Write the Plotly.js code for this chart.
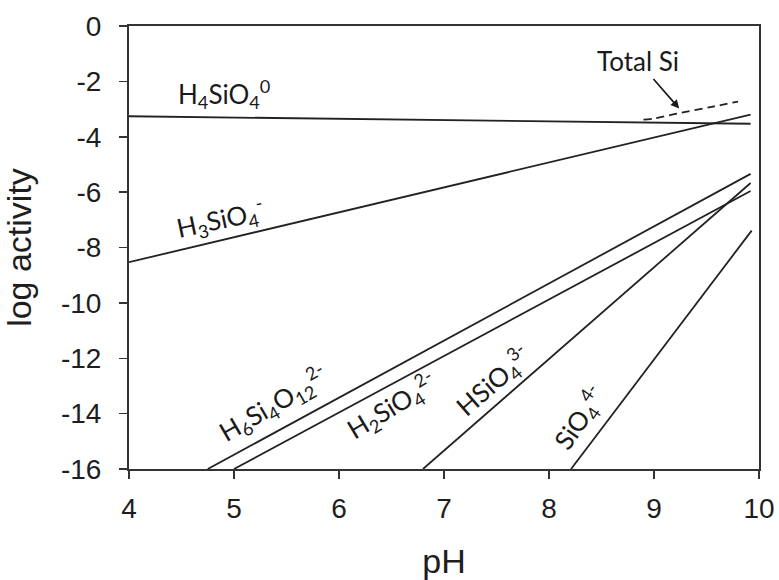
<!DOCTYPE html>
<html>
<head>
<meta charset="utf-8">
<script src="https://cdn.plot.ly/plotly-3.0.1.min.js"></script>
<style>
html,body{margin:0;padding:0;background:#fff;}
#chart{width:779px;height:580px;}
</style>
</head>
<body>
<div id="chart"></div>
<script>
// pH / log activity values
const pH_H4SiO4 = [4, 9.92];
const log_H4SiO4 = [-3.26, -3.53];
const pH_H3SiO4 = [4, 9.92];
const log_H3SiO4 = [-8.53, -3.20];
const pH_TotalSi = [8.9, 9.0, 9.25, 9.55, 9.8];
const log_TotalSi = [-3.38, -3.34, -3.14, -2.92, -2.73];
const pH_H6Si4O12 = [4.75, 9.92];
const log_H6Si4O12 = [-16, -5.34];
const pH_H2SiO4 = [5.0, 9.92];
const log_H2SiO4 = [-16, -5.96];
const pH_HSiO4 = [6.80, 9.92];
const log_HSiO4 = [-16, -5.67];
const pH_SiO4 = [8.21, 9.93];
const log_SiO4 = [-16, -7.39];

const xTicks = [4, 5, 6, 7, 8, 9, 10];
const yTicks = [0, -2, -4, -6, -8, -10, -12, -14, -16];

const lineCol = '#222';
function solid(x, y, name) {
  return {x: x, y: y, name: name, mode: 'lines', type: 'scatter',
          line: {color: lineCol, width: 1.8}, hoverinfo: 'skip'};
}
const traces = [
  solid(pH_H4SiO4, log_H4SiO4, 'H4SiO4'),
  solid(pH_H3SiO4, log_H3SiO4, 'H3SiO4-'),
  {x: pH_TotalSi, y: log_TotalSi, name: 'Total Si', mode: 'lines', type: 'scatter',
   line: {color: lineCol, width: 1.8, dash: '8px,5px', shape: 'spline'}, hoverinfo: 'skip'},
  solid(pH_H6Si4O12, log_H6Si4O12, 'H6Si4O12 2-'),
  solid(pH_H2SiO4, log_H2SiO4, 'H2SiO4 2-'),
  solid(pH_HSiO4, log_HSiO4, 'HSiO4 3-'),
  solid(pH_SiO4, log_SiO4, 'SiO4 4-')
];

const lblFont = {family: 'Lato, "Open Sans", sans-serif', size: 26, color: '#1a1a1a'};
function lbl(text, x, y, angle) {
  return {text: text, x: x, y: y, xref: 'x', yref: 'y', showarrow: false,
          textangle: angle, font: lblFont, xanchor: 'center', yanchor: 'middle'};
}
const annotations = [
  lbl('H<sub>4</sub>SiO<sub>4</sub><sup>0</sup>', 4.9, -2.45, 0),
  lbl('H<sub>3</sub>SiO<sub>4</sub><sup>-</sup>', 4.87, -6.96, -12),
  lbl('H<sub>6</sub>Si<sub>4</sub>O<sub>12</sub><sup>2-</sup>', 5.37, -13.64, -30),
  lbl('H<sub>2</sub>SiO<sub>4</sub><sup>2-</sup>', 6.50, -13.71, -31),
  lbl('HSiO<sub>4</sub><sup>3-</sup>', 7.47, -12.81, -41),
  lbl('SiO<sub>4</sub><sup>4-</sup>', 8.29, -14.14, -55),
  {text: 'Total Si', font: lblFont, x: 9.24, y: -2.98, ax: 8.85, ay: -1.28,
   axref: 'x', ayref: 'y', xref: 'x', yref: 'y', showarrow: true,
   arrowhead: 2, arrowsize: 1, arrowwidth: 1.7, arrowcolor: '#1a1a1a', standoff: 0}
];

const axisFont = {family: '"Liberation Sans", Arial, sans-serif', size: 28, color: '#1e1e1e'};
const titleFont = {family: '"Liberation Sans", Arial, sans-serif', size: 34, color: '#1e1e1e'};
const layout = {
  width: 779, height: 580,
  margin: {l: 129, r: 20, t: 26, b: 111},
  paper_bgcolor: '#fff', plot_bgcolor: '#fff',
  showlegend: false,
  xaxis: {
    range: [4, 10], tickvals: xTicks, ticktext: xTicks.map(String),
    showgrid: false, zeroline: false,
    showline: true, linecolor: '#333', linewidth: 2, mirror: true,
    ticks: 'outside', ticklen: 8, tickwidth: 1.5, tickcolor: '#333',
    tickfont: axisFont, ticklabelstandoff: 5,
    title: {text: 'pH', font: titleFont, standoff: 28}
  },
  yaxis: {
    range: [-16, 0], tickvals: yTicks, ticktext: yTicks.map(String),
    showgrid: false, zeroline: false,
    showline: true, linecolor: '#333', linewidth: 2, mirror: true,
    ticks: 'outside', ticklen: 8, tickwidth: 1.5, tickcolor: '#333',
    tickfont: axisFont, ticklabelstandoff: 12,
    title: {text: 'log activity', font: titleFont, standoff: 22}
  },
  annotations: annotations
};

Plotly.newPlot('chart', traces, layout, {displayModeBar: false, staticPlot: true});
</script>
</body>
</html>
